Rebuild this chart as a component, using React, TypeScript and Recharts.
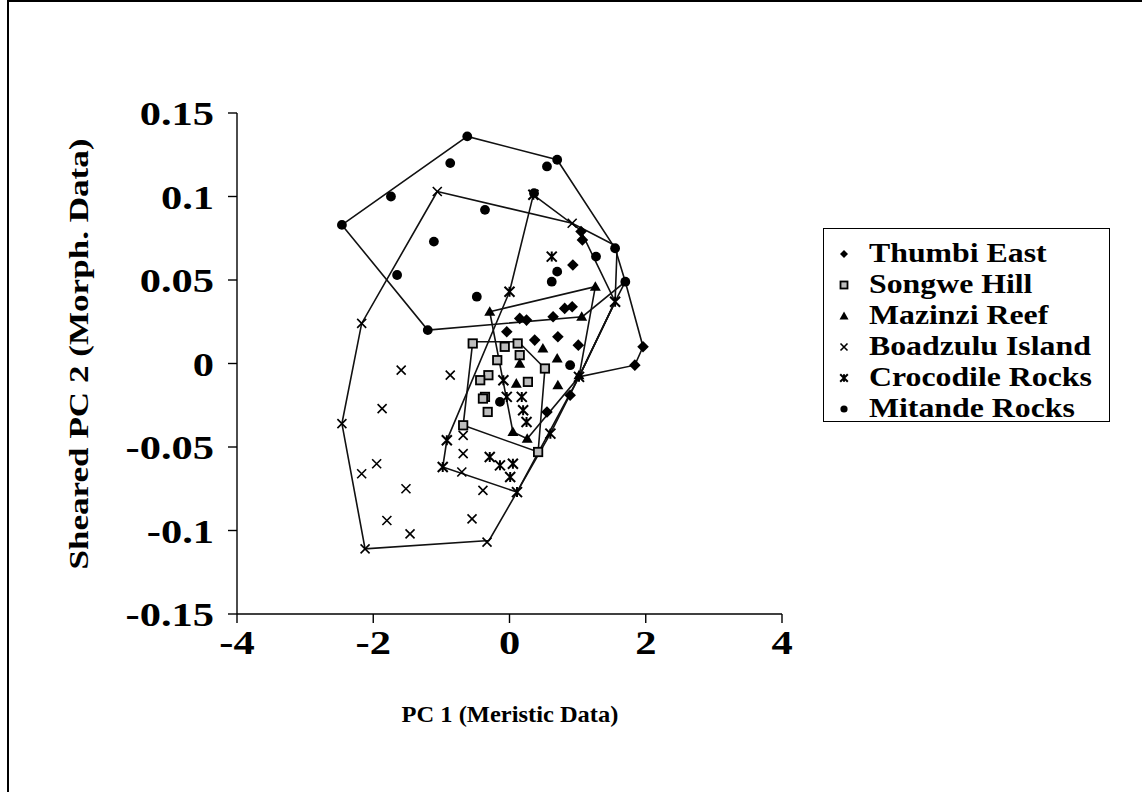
import React from "react";
import { ScatterChart, Scatter, XAxis, YAxis, Label } from "recharts";

// ---- data (PC1, sheared PC2) ----
const X_TICKS = [-4, -2, 0, 2, 4];
const X_TICK_LABELS = ["-4", "-2", "0", "2", "4"];
const Y_TICKS = [-0.15, -0.1, -0.05, 0, 0.05, 0.1, 0.15];
const Y_TICK_LABELS = ["-0.15", "-0.1", "-0.05", "0", "0.05", "0.1", "0.15"];

const thumbiEast = [
  [1.96, 0.010], [1.84, -0.001], [0.89, -0.019], [0.71, 0.016], [1.01, 0.011], [0.93, 0.059],
  [0.64, 0.028], [0.81, 0.033], [0.92, 0.034], [1.05, 0.079], [1.07, 0.074], [0.25, 0.026],
  [0.15, 0.027], [-0.04, 0.019], [0.37, 0.014], [0.55, -0.029],
];
const songweHill = [
  [-0.54, 0.012], [-0.07, 0.010], [-0.18, 0.002], [0.15, 0.005], [0.52, -0.003], [-0.31, -0.007],
  [-0.43, -0.010], [-0.36, -0.020], [0.27, -0.011], [-0.39, -0.021], [-0.32, -0.029],
  [-0.68, -0.037], [0.42, -0.053], [0.12, 0.012],
];
const mazinziReef = [
  [-0.29, 0.031], [1.26, 0.046], [1.06, 0.028], [0.49, 0.009], [0.70, 0.003], [0.15, 0.000],
  [0.71, -0.013], [0.05, -0.041], [0.26, -0.045], [1.02, -0.007], [0.10, -0.012],
];
const boadzuluIsland = [
  [-1.06, 0.103], [0.92, 0.084], [-2.17, 0.024], [-2.46, -0.036], [-1.87, -0.027], [-1.59, -0.004],
  [-0.87, -0.007], [-2.17, -0.066], [-1.95, -0.060], [-1.52, -0.075], [-1.80, -0.094],
  [-1.46, -0.102], [-0.55, -0.093], [-0.39, -0.076], [-0.33, -0.107], [-2.12, -0.111],
  [-0.68, -0.054], [-0.70, -0.065], [-0.68, -0.043],
];
const crocodileRocks = [
  [0.35, 0.101], [0.62, 0.064], [1.55, 0.037], [0.0, 0.043], [-0.98, -0.062], [-0.92, -0.046],
  [-0.29, -0.056], [-0.14, -0.061], [0.05, -0.060], [0.01, -0.068], [0.11, -0.077], [0.60, -0.042],
  [-0.09, -0.010], [0.18, -0.020], [0.20, -0.028], [-0.04, -0.020], [0.25, -0.035], [1.02, -0.008],
];
const mitandeRocks = [
  [-2.46, 0.083], [-1.74, 0.100], [-0.87, 0.120], [-0.62, 0.136], [0.70, 0.122], [0.55, 0.118],
  [0.36, 0.102], [-0.36, 0.092], [-1.11, 0.073], [-1.65, 0.053], [-1.20, 0.020], [-0.48, 0.040],
  [1.55, 0.069], [1.27, 0.064], [1.70, 0.049], [0.62, 0.049], [0.70, 0.055], [0.89, -0.001],
  [-0.14, -0.023],
];

// outline polygons drawn around each group (vertex order as drawn)
const thumbiHull = [[1.70, 0.049], [1.96, 0.010], [1.84, -0.001], [1.02, -0.008], [1.55, 0.037]];
const songweHull = [[-0.54, 0.013], [0.13, 0.013], [0.52, -0.003], [0.42, -0.053], [-0.68, -0.037]];
const mazinziHull = [[-0.29, 0.031], [1.26, 0.046], [1.02, -0.008], [0.26, -0.045], [0.05, -0.041]];
const boadzuluHull = [
  [-1.06, 0.103], [0.92, 0.084], [1.58, 0.070], [1.55, 0.037], [1.02, -0.008], [0.11, -0.077],
  [-0.30, -0.106], [-2.12, -0.111], [-2.46, -0.036], [-2.17, 0.024],
];
const crocodileHull = [
  [0.35, 0.101], [1.04, 0.080], [1.55, 0.037], [1.02, -0.008], [0.60, -0.042], [0.11, -0.077],
  [-0.98, -0.062], [-0.92, -0.046], [0.0, 0.043],
];
const mitandeHull = [
  [-2.46, 0.083], [-0.62, 0.136], [0.70, 0.122], [1.55, 0.069], [1.70, 0.049], [1.07, 0.028], [-1.20, 0.020],
];

const toPts = (a: number[][]) => a.map(([x, y]) => ({ x, y }));
const closed = (a: number[][]) => toPts([...a, a[0]]);

const FONT = '"Liberation Serif", "Times New Roman", serif';
const SX = 1.2;

// ---- markers ----
const Diamond = ({ cx, cy, s = 5.8 }: any) => (
  <path d={`M${cx},${cy - s}L${cx + s},${cy}L${cx},${cy + s}L${cx - s},${cy}Z`} fill="#000" />
);
const Square = ({ cx, cy, s = 4.2 }: any) => (
  <rect x={cx - s} y={cy - s} width={2 * s} height={2 * s} fill="#bdbdbd" stroke="#000" strokeWidth={1.8} />
);
const Triangle = ({ cx, cy, s = 5.5 }: any) => (
  <path d={`M${cx},${cy - s}L${cx + s},${cy + s * 0.75}L${cx - s},${cy + s * 0.75}Z`} fill="#000" />
);
const Cross = ({ cx, cy, s = 4.5 }: any) => (
  <path d={`M${cx - s},${cy - s}L${cx + s},${cy + s}M${cx - s},${cy + s}L${cx + s},${cy - s}`} stroke="#000" strokeWidth={1.6} fill="none" />
);
const Star = ({ cx, cy, s = 5 }: any) => (
  <path
    d={`M${cx - s},${cy - s}L${cx + s},${cy + s}M${cx - s},${cy + s}L${cx + s},${cy - s}M${cx},${cy - s}L${cx},${cy + s}`}
    stroke="#000" strokeWidth={2} fill="none"
  />
);
const Dot = ({ cx, cy, s = 4.9 }: any) => <circle cx={cx} cy={cy} r={s} fill="#000" />;

const SERIES = [
  { name: "Thumbi East", data: thumbiEast, hull: thumbiHull, M: Diamond, ls: 4 },
  { name: "Songwe Hill", data: songweHill, hull: songweHull, M: Square, ls: 3.5 },
  { name: "Mazinzi Reef", data: mazinziReef, hull: mazinziHull, M: Triangle, ls: 4.5 },
  { name: "Boadzulu Island", data: boadzuluIsland, hull: boadzuluHull, M: Cross, ls: 3.5 },
  { name: "Crocodile Rocks", data: crocodileRocks, hull: crocodileHull, M: Star, ls: 3.8 },
  { name: "Mitande Rocks", data: mitandeRocks, hull: mitandeHull, M: Dot, ls: 3.6 },
];

const XTick = ({ x, y, payload, index }: any) => (
  <g transform={`translate(${x},${y})`}>
    <text textAnchor="middle" dy="0.72em" transform={`scale(1.25,1)`} fontFamily={FONT} fontWeight="bold" fontSize={34} fill="#000">
      {X_TICK_LABELS[index] ?? String(payload.value)}
    </text>
  </g>
);
const YTick = ({ x, y, payload, index }: any) => (
  <g transform={`translate(${x},${y})`}>
    <text textAnchor="end" dy="0.36em" transform={`scale(1.25,1)`} fontFamily={FONT} fontWeight="bold" fontSize={34} fill="#000">
      {Y_TICK_LABELS[index] ?? String(payload.value)}
    </text>
  </g>
);

function ChartLegend() {
  return (
    <div style={{ position: "absolute", left: 823, top: 228, border: "1.5px solid #000", boxSizing: "border-box", width: 287, height: 194, paddingTop: 9, background: "#fff" }}>
      {SERIES.map(({ name, M, ls }) => (
        <div key={name} style={{ height: 31, display: "flex", alignItems: "center" }}>
          <svg width={14} height={14} style={{ marginLeft: 13, flex: "none" }}>
            <M cx={7} cy={7} s={ls} />
          </svg>
          <span style={{ display: "inline-block", marginLeft: 18, fontFamily: FONT, fontWeight: "bold", fontSize: 26.5, color: "#000", transform: `scaleX(${SX})`, transformOrigin: "left center", whiteSpace: "nowrap" }}>
            {name}
          </span>
        </div>
      ))}
    </div>
  );
}

export default function App() {
  const W = 1142, H = 799;
  const yAxisW = 120, xAxisH = 100;
  return (
    <div style={{ position: "absolute", left: 0, top: 0, width: W, height: H, background: "#fff", overflow: "hidden" }}>
      <div style={{ position: "absolute", left: 7, top: 0, width: 1133, height: 790, borderLeft: "2px solid #000", borderTop: "2px solid #000", borderRight: "2px solid #000" }} />
      <div style={{ position: "absolute", left: 0, top: 0 }}>
        <ScatterChart width={W} height={H} margin={{ top: 113, right: W - 782, bottom: H - 614 - xAxisH, left: 237 - yAxisW }}>
          <XAxis
            type="number" dataKey="x" domain={[-4, 4]} ticks={X_TICKS} allowDataOverflow
            height={xAxisH} tickSize={9} tickMargin={7}
            axisLine={{ stroke: "#000", strokeWidth: 1.4 }} tickLine={{ stroke: "#000", strokeWidth: 1.4 }}
            tick={<XTick />}
          >
            <Label
              content={() => (
                <text x={0} y={0} textAnchor="middle" dominantBaseline="middle" fontFamily={FONT} fontWeight="bold" fontSize={24} fill="#000"
                  transform="translate(510,716) scale(1.02,1)">
                  PC 1 (Meristic Data)
                </text>
              )}
            />
          </XAxis>
          <YAxis
            type="number" dataKey="y" domain={[-0.15, 0.15]} ticks={Y_TICKS} allowDataOverflow
            width={yAxisW} tickSize={9} tickMargin={14}
            axisLine={{ stroke: "#000", strokeWidth: 1.4 }} tickLine={{ stroke: "#000", strokeWidth: 1.4 }}
            tick={<YTick />}
          >
            <Label
              content={() => (
                <text x={0} y={0} textAnchor="middle" dominantBaseline="middle" fontFamily={FONT} fontWeight="bold" fontSize={27} fill="#000"
                  transform="translate(82,354) rotate(-90) scale(1.3,1)">
                  Sheared PC 2 (Morph. Data)
                </text>
              )}
            />
          </YAxis>
          {SERIES.map((s) => (
            <Scatter key={s.name + "-hull"} data={closed(s.hull)} line={{ stroke: "#111", strokeWidth: 1.6 }} lineType="joint"
              shape={() => <g />} legendType="none" isAnimationActive={false} />
          ))}
          {SERIES.map((s) => (
            <Scatter key={s.name} name={s.name} data={toPts(s.data)} isAnimationActive={false}
              shape={(p: any) => <s.M cx={p.cx} cy={p.cy} />} />
          ))}
        </ScatterChart>
      </div>
      <ChartLegend />
    </div>
  );
}
